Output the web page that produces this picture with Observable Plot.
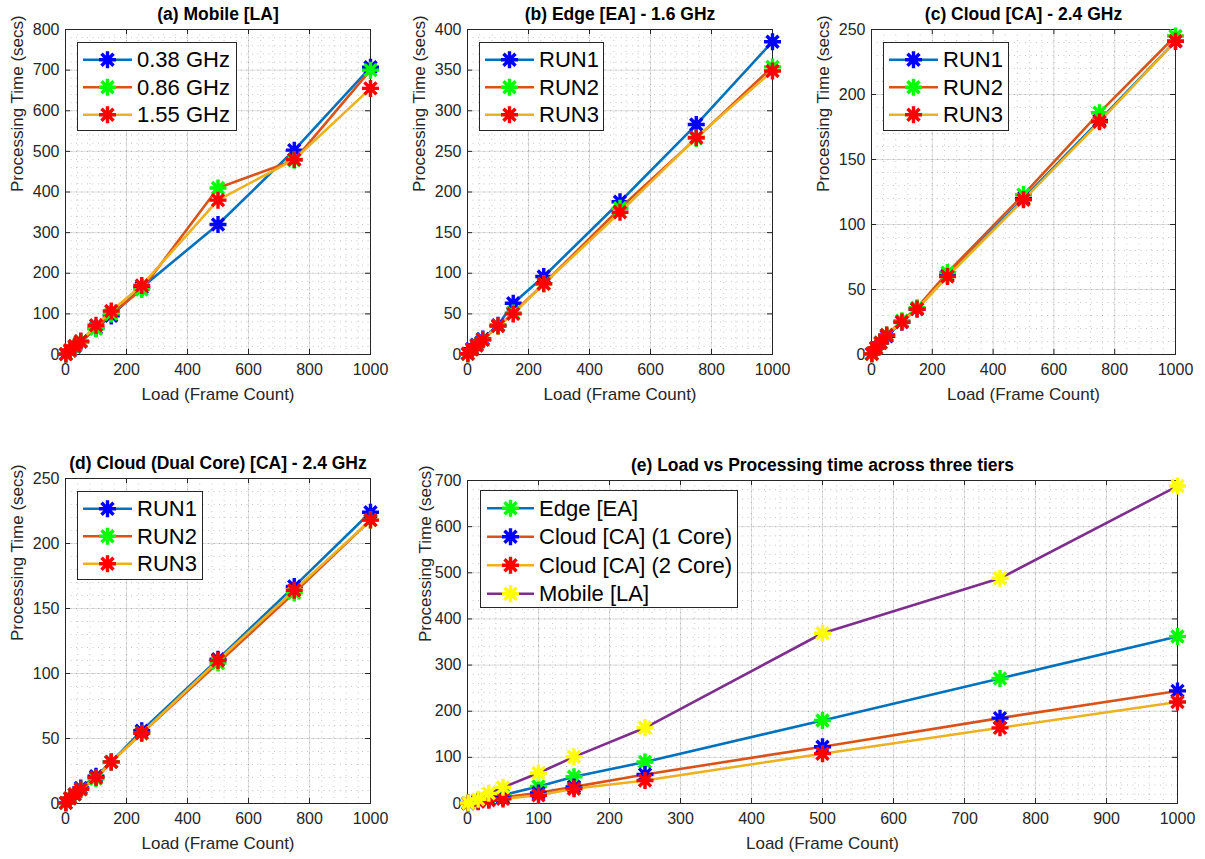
<!DOCTYPE html>
<html><head><meta charset="utf-8">
<script src="https://cdn.jsdelivr.net/npm/d3@7"></script>
<script src="https://cdn.jsdelivr.net/npm/@observablehq/plot@0.6"></script>
<style>
body{margin:0;background:#fff;}
#root{position:relative;width:1205px;height:859px;overflow:hidden;background:#fff;font-family:"Liberation Sans",Arial,sans-serif;}
</style></head><body><div id="root"></div>
<script>
// ---------- data ----------
const loads = [1, 15, 30, 50, 100, 150, 250, 500, 750, 1000];

const titles = ["(a) Mobile [LA]", "(b) Edge [EA] - 1.6 GHz", "(c) Cloud [CA] - 2.4 GHz",
  "(d) Cloud (Dual Core) [CA] - 2.4 GHz", "(e) Load vs Processing time across three tiers"];
const xLabel = "Load (Frame Count)";
const yLabel = "Processing Time (secs)";

const mobileNames = ["0.38 GHz", "0.86 GHz", "1.55 GHz"];
const mob038 = [1, 9, 19, 31, 65, 95, 165, 320, 503, 707];
const mob086 = [1, 10, 20, 32, 63, 100, 160, 410, 478, 700];
const mob155 = [1, 11, 21, 33, 72, 107, 170, 380, 480, 655];

const runNames = ["RUN1", "RUN2", "RUN3"];
const edge1 = [1, 7, 12, 19, 36, 63, 96, 188, 283, 385];
const edge2 = [1, 6, 11, 18, 35, 51, 87, 180, 266, 354];
const edge3 = [1, 6, 11, 18, 35, 50, 87, 175, 267, 349];

const cloud1 = [0.5, 5, 9, 14, 25, 35, 61, 120, 180, 241];
const cloud2 = [0.5, 5, 9, 15, 26, 36, 63, 123, 186, 245];
const cloud3 = [0.5, 5, 9, 15, 25, 35, 60, 119, 179, 241];

const dual1 = [0.5, 4, 7, 12, 21, 32, 56, 111, 167, 224];
const dual2 = [0.5, 4, 7, 11, 19, 32, 54, 108, 162, 218];
const dual3 = [0.5, 4, 7, 11, 20, 32, 54, 110, 164, 218];

const tierNames = ["Edge [EA]", "Cloud [CA] (1 Core)", "Cloud [CA] (2 Core)", "Mobile [LA]"];
const tierEdge = [1, 6, 11, 18, 37, 58, 90, 180, 271, 362];
const tierCloud1 = [0.5, 5, 9, 13, 23, 36, 63, 123, 185, 244];
const tierCloud2 = [0.5, 4, 7, 10, 18, 32, 50, 108, 164, 220];
const tierMobile = [1, 9, 22, 35, 66, 101, 164, 369, 488, 688];

const xTicks5 = [0, 200, 400, 600, 800, 1000];
const xTicks10 = [0, 100, 200, 300, 400, 500, 600, 700, 800, 900, 1000];
const yTicksA = [0, 100, 200, 300, 400, 500, 600, 700, 800];
const yTicksB = [0, 50, 100, 150, 200, 250, 300, 350, 400];
const yTicksC = [0, 50, 100, 150, 200, 250];
const yTicksE = [0, 100, 200, 300, 400, 500, 600, 700];

// ---------- styles ----------
const C = {blue: "#0072BD", orange: "#D95319", yellow: "#EDB120", purple: "#7E2F8E"};
const M = {blue: "#0000FF", green: "#00FF00", red: "#FF0000", yellow: "#FFFF00"};
const AX = "#262626";
const FONT = "'Liberation Sans', Arial, sans-serif";
const MR = 8.5, MSW = 3.4, LW = 2.6;

const asterisk = {
  draw(ctx, size) {
    const r = Math.sqrt(size / Math.PI), d = r * Math.SQRT1_2;
    ctx.moveTo(-r, 0); ctx.lineTo(r, 0);
    ctx.moveTo(0, -r); ctx.lineTo(0, r);
    ctx.moveTo(-d, -d); ctx.lineTo(d, d);
    ctx.moveTo(-d, d); ctx.lineTo(d, -d);
  }
};

const root = document.getElementById("root");

function panel(cfg) {
  const {L, T, W, H} = cfg;
  const ml = 75, mr = 28, mt = 36, mb = 60;
  const xMinor = d3.range(0, cfg.xMax + 1e-9, cfg.xMinorStep);
  const yMinor = d3.range(0, cfg.yMax + 1e-9, cfg.yMinorStep);
  const marks = [
    Plot.ruleX(xMinor, {stroke: AX, strokeOpacity: 0.25, strokeDasharray: "1,4.5"}),
    Plot.ruleY(yMinor, {stroke: AX, strokeOpacity: 0.25, strokeDasharray: "1,4.5"}),
    Plot.ruleX(cfg.xTicks, {stroke: AX, strokeOpacity: 0.15}),
    Plot.ruleY(cfg.yTicks, {stroke: AX, strokeOpacity: 0.15}),
    Plot.frame({stroke: AX, strokeWidth: 1}),
    Plot.ruleX(cfg.xTicks, {stroke: AX, insetTop: H - 5}),
    Plot.ruleX(cfg.xTicks, {stroke: AX, insetBottom: H - 5}),
    Plot.ruleY(cfg.yTicks, {stroke: AX, insetRight: W - 5}),
    Plot.ruleY(cfg.yTicks, {stroke: AX, insetLeft: W - 5}),
    Plot.axisX({ticks: cfg.xTicks, tickSize: 0, tickPadding: 9, label: null, tickFormat: d => String(d), fontSize: 16, fill: AX}),
    Plot.axisY({ticks: cfg.yTicks, tickSize: 0, tickPadding: 6, label: null, tickFormat: d => String(d), fontSize: 16, fill: AX})
  ];
  cfg.series.forEach(s => {
    const rows = loads.map((x, i) => ({load: x, time: s.values[i]}));
    marks.push(Plot.line(rows, {x: "load", y: "time", stroke: s.line, strokeWidth: LW}));
    marks.push(Plot.dot(rows, {x: "load", y: "time", symbol: asterisk, r: MR, stroke: s.marker, strokeWidth: MSW, fill: "none"}));
  });
  marks.push(
    Plot.text([cfg.title], {text: d => d, frameAnchor: "top", dy: -15, lineAnchor: "middle", fontWeight: "bold", fontSize: 17.5, fill: "#000"}),
    Plot.text([xLabel], {text: d => d, frameAnchor: "bottom", dy: 40, lineAnchor: "middle", fontSize: 17, fill: AX}),
    Plot.text([yLabel], {text: d => d, frameAnchor: "left", dx: cfg.ylabDx, rotate: -90, lineAnchor: "middle", fontSize: 17, fill: AX})
  );
  const svg = Plot.plot({
    width: W + ml + mr, height: H + mt + mb,
    marginLeft: ml, marginRight: mr, marginTop: mt, marginBottom: mb,
    x: {domain: [0, cfg.xMax]}, y: {domain: [0, cfg.yMax]},
    style: {fontFamily: FONT, background: "transparent", overflow: "visible", color: AX},
    marks
  });
  svg.style.position = "absolute";
  svg.style.left = (L - ml) + "px";
  svg.style.top = (T - mt) + "px";
  svg.style.maxWidth = "none";
  root.appendChild(svg);

  // legend
  const lg = cfg.legend;
  const ls = d3.create("svg").attr("width", lg.w).attr("height", lg.h)
    .style("position", "absolute").style("left", (L + lg.dx) + "px").style("top", (T + lg.dy) + "px")
    .style("overflow", "visible");
  ls.append("rect").attr("x", 0.5).attr("y", 0.5).attr("width", lg.w - 1).attr("height", lg.h - 1)
    .attr("fill", "#fff").attr("stroke", AX).attr("stroke-width", 1);
  const r = MR, d = r * Math.SQRT1_2;
  const ast = `M${-r},0L${r},0M0,${-r}L0,${r}M${-d},${-d}L${d},${d}M${-d},${d}L${d},${-d}`;
  cfg.series.forEach((s, i) => {
    const cy = lg.pad + lg.rowH * (i + 0.5);
    ls.append("line").attr("x1", lg.x1).attr("x2", lg.x2).attr("y1", cy).attr("y2", cy)
      .attr("stroke", s.line).attr("stroke-width", LW);
    ls.append("path").attr("d", ast).attr("transform", `translate(${(lg.x1 + lg.x2) / 2},${cy})`)
      .attr("stroke", s.marker).attr("stroke-width", MSW).attr("fill", "none");
    ls.append("text").attr("x", lg.tx).attr("y", cy).attr("dy", "0.35em")
      .attr("font-family", FONT).attr("font-size", 22).attr("fill", "#000").text(s.name);
  });
  root.appendChild(ls.node());
}

const legend3 = (w) => ({dx: 12, dy: 13, w, h: 89, pad: 4, rowH: 27.5, x1: 6, x2: 55, tx: 60});

panel({L: 65, T: 29, W: 305, H: 325, xMax: 1000, yMax: 800, xTicks: xTicks5, yTicks: yTicksA,
  xMinorStep: 40, yMinorStep: 20, title: titles[0], ylabDx: -48, legend: legend3(160),
  series: [
    {name: mobileNames[0], values: mob038, line: C.blue, marker: M.blue},
    {name: mobileNames[1], values: mob086, line: C.orange, marker: M.green},
    {name: mobileNames[2], values: mob155, line: C.yellow, marker: M.red}
  ]});

panel({L: 467, T: 29, W: 305, H: 325, xMax: 1000, yMax: 400, xTicks: xTicks5, yTicks: yTicksB,
  xMinorStep: 40, yMinorStep: 10, title: titles[1], ylabDx: -48, legend: legend3(125),
  series: [
    {name: runNames[0], values: edge1, line: C.blue, marker: M.blue},
    {name: runNames[1], values: edge2, line: C.orange, marker: M.green},
    {name: runNames[2], values: edge3, line: C.yellow, marker: M.red}
  ]});

panel({L: 871, T: 29, W: 304, H: 325, xMax: 1000, yMax: 250, xTicks: xTicks5, yTicks: yTicksC,
  xMinorStep: 40, yMinorStep: 10, title: titles[2], ylabDx: -48, legend: legend3(126),
  series: [
    {name: runNames[0], values: cloud1, line: C.blue, marker: M.blue},
    {name: runNames[1], values: cloud2, line: C.orange, marker: M.green},
    {name: runNames[2], values: cloud3, line: C.yellow, marker: M.red}
  ]});

panel({L: 65, T: 478, W: 305, H: 325, xMax: 1000, yMax: 250, xTicks: xTicks5, yTicks: yTicksC,
  xMinorStep: 40, yMinorStep: 10, title: titles[3], ylabDx: -48, legend: legend3(126),
  series: [
    {name: runNames[0], values: dual1, line: C.blue, marker: M.blue},
    {name: runNames[1], values: dual2, line: C.orange, marker: M.green},
    {name: runNames[2], values: dual3, line: C.yellow, marker: M.red}
  ]});

panel({L: 467, T: 480, W: 710, H: 323, xMax: 1000, yMax: 700, xTicks: xTicks10, yTicks: yTicksE,
  xMinorStep: 20, yMinorStep: 20, title: titles[4], ylabDx: -42,
  legend: {dx: 13, dy: 10, w: 258, h: 118, pad: 4, rowH: 28.5, x1: 7, x2: 54, tx: 59},
  series: [
    {name: tierNames[0], values: tierEdge, line: C.blue, marker: M.green},
    {name: tierNames[1], values: tierCloud1, line: C.orange, marker: M.blue},
    {name: tierNames[2], values: tierCloud2, line: C.yellow, marker: M.red},
    {name: tierNames[3], values: tierMobile, line: C.purple, marker: M.yellow}
  ]});
</script></body></html>
